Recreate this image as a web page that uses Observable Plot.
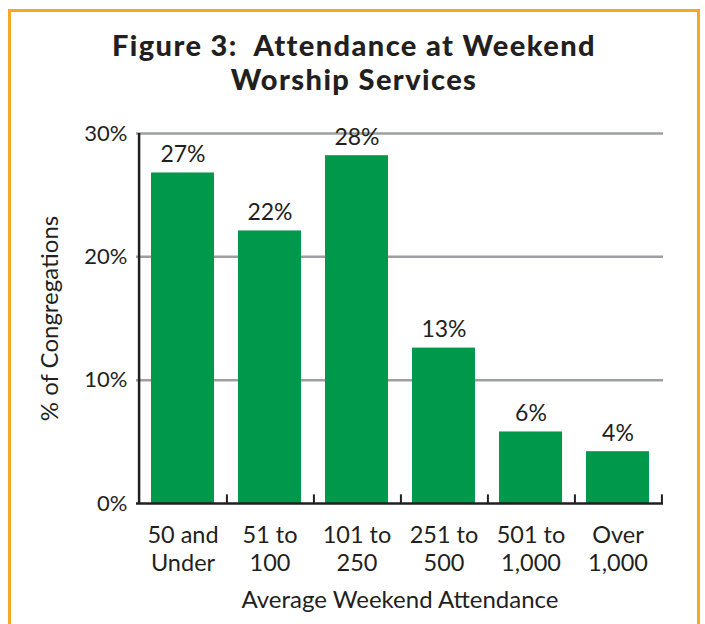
<!DOCTYPE html>
<html>
<head>
<meta charset="utf-8">
<script src="https://cdn.jsdelivr.net/npm/d3@7"></script>
<script src="https://cdn.jsdelivr.net/npm/@observablehq/plot@0.6"></script>
<style>
  html, body { margin: 0; padding: 0; background: #fff; }
  #wrap { position: relative; width: 705px; height: 624px; overflow: hidden; font-family: Lato, "Open Sans", sans-serif; color: #231f20; }
  #frame { position: absolute; left: 8px; top: 9px; width: 692px; height: 700px; border: 3px solid #f7a823; box-sizing: border-box; }
  .title { position: absolute; left: 9px; width: 690px; text-align: center; font-weight: 900; font-size: 29px; letter-spacing: 1.4px; line-height: 35px; height: 35px; }
  #t1 { top: 27px; }
  #t2 { top: 61px; }
  #chart { position: absolute; left: 0; top: 0; }
</style>
</head>
<body>
<div id="wrap">
  <div id="frame"></div>
  <div id="chart"></div>
  <div class="title" id="t1">Figure 3:&nbsp; Attendance at Weekend</div>
  <div class="title" id="t2">Worship Services</div>
</div>
<script>
const categories = ["50 and\nUnder", "51 to\n100", "101 to\n250", "251 to\n500", "501 to\n1,000", "Over\n1,000"];
const values = [26.8, 22.1, 28.2, 12.6, 5.8, 4.2];
const valueLabels = ["27%", "22%", "28%", "13%", "6%", "4%"];
const yTicks = [0, 10, 20, 30];
const xTitle = "Average Weekend Attendance";
const yTitle = "% of Congregations";

const data = categories.map((c, i) => ({cat: c, value: values[i], label: valueLabels[i]}));

const W = 705, H = 624;
const mL = 136, mR = 42;
const step = (W - mL - mR) / categories.length;
const ink = "#231f20";

const plot = Plot.plot({
  width: W,
  height: H,
  marginLeft: mL,
  marginRight: mR,
  marginTop: 133,
  marginBottom: 121,
  style: {fontFamily: "Lato, 'Open Sans', sans-serif", color: ink, background: "transparent"},
  x: {domain: categories, padding: 0, axis: null},
  y: {domain: [0, 30], axis: null},
  marks: [
    Plot.ruleY(yTicks.filter(d => d > 0), {stroke: "#9d9fa2", strokeWidth: 2.5}),
    Plot.barY(data, {x: "cat", y: "value", fill: "#00984a", insetLeft: 12, insetRight: 12}),
    Plot.ruleX(categories, {x: d => d, dx: step / 2, y1: 0, y2: 0.7, stroke: ink, strokeWidth: 2}),
    Plot.ruleX([categories[0]], {x: d => d, dx: -step / 2, y1: 0, y2: 30, stroke: ink, strokeWidth: 2.5}),
    Plot.ruleY([0], {stroke: ink, strokeWidth: 2.5}),
    Plot.text(data, {x: "cat", y: "value", text: "label", lineAnchor: "bottom", dy: -11, fontSize: 23, fill: ink}),
    Plot.text(yTicks, {y: d => d, text: d => d + "%", frameAnchor: "left", textAnchor: "end", lineAnchor: "middle", dx: -9, fontSize: 22, fill: ink}),
    Plot.text(categories, {x: d => d, y: 0, text: d => d, lineAnchor: "top", dy: 20, lineHeight: 1.18, fontSize: 23.5, fill: ink}),
    Plot.text([xTitle], {text: d => d, frameAnchor: "bottom", lineAnchor: "bottom", dy: 104, fontSize: 24, fill: ink}),
    Plot.text([yTitle], {text: d => d, frameAnchor: "left", textAnchor: "middle", rotate: -90, lineAnchor: "bottom", dx: -79, fontSize: 24, fill: ink})
  ]
});
document.getElementById("chart").appendChild(plot);
</script>
</body>
</html>
